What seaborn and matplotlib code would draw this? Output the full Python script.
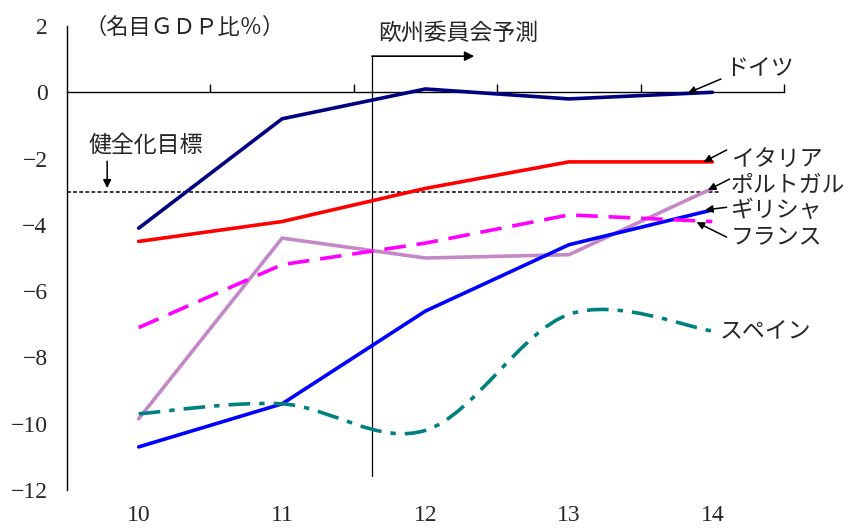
import numpy as np
import pandas as pd
import matplotlib
matplotlib.use("Agg")
import matplotlib.pyplot as plt
from matplotlib.path import Path
from matplotlib.patches import PathPatch
import seaborn as sns

# --- data (名目GDP比%) ---
years = [10, 11, 12, 13, 14]
germany = [-4.1, -0.8, 0.1, -0.2, 0.0]
italy = [-4.5, -3.9, -2.9, -2.1, -2.1]
portugal = [-9.85, -4.4, -5.0, -4.9, -2.9]
greece = [-10.7, -9.4, -6.6, -4.6, -3.55]
france = [-7.1, -5.2, -4.55, -3.7, -3.9]
spain = [-9.7, -9.4, -10.2, -6.7, -7.2]
target = -3.0
forecast_start = 11.63

names = ["ドイツ", "イタリア", "ポルトガル", "ギリシャ", "フランス"]
series = [germany, italy, portugal, greece, france]
colors = {"ドイツ": "#000080", "イタリア": "#FF0000", "ポルトガル": "#C487C8",
          "ギリシャ": "#0000FF", "フランス": "#FF00FF"}
dashes = {"ドイツ": "", "イタリア": "", "ポルトガル": "", "ギリシャ": "", "フランス": (6, 3)}

df = pd.DataFrame([(n, x, v) for n, s in zip(names, series) for x, v in zip(years, s)],
                  columns=["country", "year", "value"])

sns.set_style("white")
plt.rcParams["font.family"] = ["Noto Sans CJK JP", "DejaVu Sans"]
num_font = ["Liberation Serif", "DejaVu Serif"]

fig = plt.figure(figsize=(8.51, 5.29), dpi=100)
ax = fig.add_axes([67 / 851, 1 - 490 / 529, 717 / 851, 464 / 529])

sns.lineplot(data=df, x="year", y="value", hue="country", hue_order=names, palette=colors,
             style="country", style_order=names, dashes=dashes, linewidth=2.6,
             legend=False, ax=ax, sort=False, zorder=3)

# Spain: smooth curve (Catmull-Rom -> cubic Bezier) through the data points
pts = np.column_stack([years, spain]).astype(float)
ext = np.vstack([pts[0], pts, pts[-1]])
verts = [tuple(pts[0])]
codes = [Path.MOVETO]
for i in range(len(pts) - 1):
    p0, p1, p2, p3 = ext[i], ext[i + 1], ext[i + 2], ext[i + 3]
    c1 = p1 + (p2 - p0) / 6
    c2 = p2 - (p3 - p1) / 6
    verts += [tuple(c1), tuple(c2), tuple(p2)]
    codes += [Path.CURVE4] * 3
ax.add_patch(PathPatch(Path(verts, codes), facecolor="none", edgecolor="#008080",
                       linewidth=2.6, linestyle=(0, (6, 2.5, 1.5, 2.5)), zorder=3))

# target line and forecast marker
ax.plot([9.5, 14.05], [target, target], color="black", linestyle=(0, (2.5, 1.5)), linewidth=1.1)
ax.plot([forecast_start, forecast_start], [-11.59, 1.09], color="black", linewidth=0.9)
ax.annotate("", xy=(12.34, 1.09), xytext=(forecast_start - 0.003, 1.09),
            arrowprops=dict(arrowstyle="-|>", color="black", lw=1.2, mutation_scale=14,
                            shrinkA=0, shrinkB=0))

# axes
ax.set_xlim(9.5, 14.5)
ax.set_ylim(-12, 2)
ax.set_xlabel("")
ax.set_ylabel("")
ax.set_xticks(years)
ax.set_xticklabels([str(y) for y in years], fontfamily=num_font, fontsize=17)
ax.set_yticks(range(-12, 3, 2))
ax.set_yticklabels([str(v).replace("-", "\u2212") for v in range(-12, 3, 2)],
                   fontfamily=num_font, fontsize=17)
ax.tick_params(axis="x", length=0, pad=11)
ax.tick_params(axis="y", direction="in", length=6, width=1, pad=14, color="black")
for s in ["top", "right", "bottom"]:
    ax.spines[s].set_visible(False)
ax.spines["left"].set_color("black")
ax.spines["left"].set_linewidth(1)

sec = ax.secondary_xaxis(12 / 14)
sec.set_xticks([10.5, 11.5, 12.5, 13.5, 14.5])
sec.tick_params(direction="out", length=6, width=1, labeltop=False, labelbottom=False, color="black")
sec.spines["top"].set_linewidth(1)
sec.spines["top"].set_color("black")

# labels
fs = 16.5
ax.text(9.62, 1.97, "（名目ＧＤＰ比％）", fontsize=16, va="center", ha="left")
ax.text(11.67, 1.79, "欧州委員会予測", fontsize=fs, va="center", ha="left")
ax.text(9.65, -1.62, "健全化目標", fontsize=fs, va="center", ha="left")
ax.annotate("", xy=(9.78, -2.89), xytext=(9.78, -2.08),
            arrowprops=dict(arrowstyle="-|>", color="black", lw=1.1, mutation_scale=12,
                            shrinkA=0, shrinkB=0))

labels = [
    ("ドイツ", (14.09, 0.73), (14.06, 0.40), (13.83, -0.02)),
    ("イタリア", (14.13, -2.04), (14.10, -1.74), (13.94, -2.10)),
    ("ポルトガル", (14.13, -2.80), (14.12, -2.62), (13.97, -2.95)),
    ("ギリシャ", (14.13, -3.58), (14.10, -3.47), (13.95, -3.55)),
    ("フランス", (14.13, -4.37), (14.10, -4.37), (13.89, -3.92)),
]
for text, tpos, tail, head in labels:
    ax.text(tpos[0], tpos[1], text, fontsize=fs, va="center", ha="left", clip_on=False)
    ax.annotate("", xy=head, xytext=tail, annotation_clip=False,
                arrowprops=dict(arrowstyle="-|>", color="black", lw=1.1, mutation_scale=11,
                                shrinkA=0, shrinkB=0))
ax.text(14.05, -7.23, "スペイン", fontsize=fs, va="center", ha="left", clip_on=False)

fig.savefig("out.png", dpi=100)
